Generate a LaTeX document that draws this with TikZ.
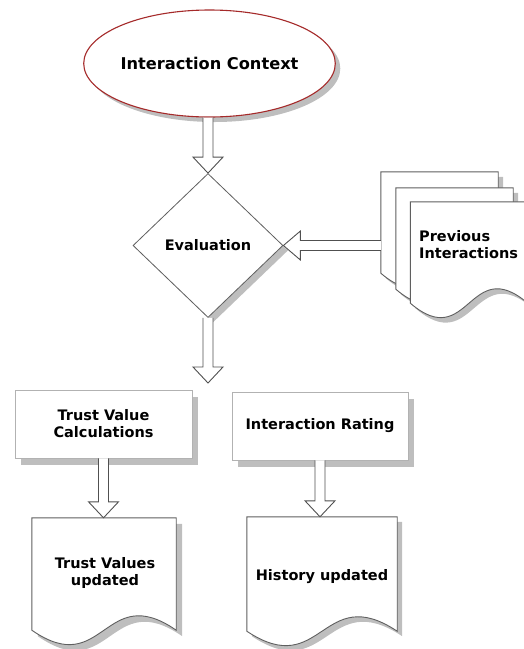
\documentclass[tikz,border=0pt]{standalone}
\usepackage{fontspec}
\setmainfont{DejaVu Sans}
\usetikzlibrary{shapes.geometric,shadows,calc}

\definecolor{ctxred}{RGB}{165,42,42}
\definecolor{edgegray}{RGB}{95,95,95}
\definecolor{boxgray}{RGB}{178,178,178}
\definecolor{shadegray}{RGB}{190,190,190}
\definecolor{arrowgray}{RGB}{80,80,80}

% outline of a document symbol built on the box of node #2 (wavy bottom edge),
% moved right and down by #3
\newcommand\docshape[3]{%
  \path[#1] let \p1=(#2.north west), \p2=(#2.south east) in
    (\x1+#3,\y2-#3) -- (\x1+#3,\y1-#3) -- (\x2+#3,\y1-#3) -- (\x2+#3,\y2-#3)
    .. controls ({0.5*\x1+0.5*\x2+#3},{\y2+50pt-#3}) and ({0.5*\x1+0.5*\x2+#3},{\y2-50pt-#3})
    .. (\x1+#3,\y2-#3) -- cycle;}

% hollow block arrow pointing down from #1 to #2
\newcommand\blockdown[2]{%
  \path[blockarrow] let \p1=(#1), \p2=(#2) in
    (\x1-5pt,\y1) -- (\x1-5pt,\y2+16pt) -- (\x1-15pt,\y2+16pt) -- (\x1,\y2)
    -- (\x1+15pt,\y2+16pt) -- (\x1+5pt,\y2+16pt) -- (\x1+5pt,\y1);}

% hollow block arrow pointing left from #1 to #2
\newcommand\blockleft[2]{%
  \path[blockarrow] let \p1=(#1), \p2=(#2) in
    (\x1,\y2+5pt) -- (\x2+17pt,\y2+5pt) -- (\x2+17pt,\y2+14.5pt) -- (\x2,\y2)
    -- (\x2+17pt,\y2-14.5pt) -- (\x2+17pt,\y2-5pt) -- (\x1,\y2-5pt);}

\tikzset{
  txt/.style={font=\fontsize{14.5}{17}\selectfont\bfseries, text=black, align=center, inner sep=0pt},
  ctxnode/.style={txt, font=\fontsize{16.2}{19}\selectfont\bfseries, ellipse, draw=ctxred,
    line width=1.1pt, fill=white, minimum width=247, minimum height=107,
    drop shadow={shadow xshift=5pt, shadow yshift=-5pt, fill=shadegray, opacity=1}},
  decision/.style={txt, diamond, draw=edgegray, line width=0.8pt, fill=white,
    minimum width=150, minimum height=144,
    drop shadow={shadow xshift=5pt, shadow yshift=-5pt, fill=shadegray, opacity=1}},
  process/.style={txt, rectangle, draw=boxgray, line width=0.9pt, fill=white,
    drop shadow={shadow xshift=6pt, shadow yshift=-7pt, fill=shadegray, opacity=1}},
  docarea/.style={rectangle, inner sep=0pt, draw=none},
  docfill/.style={draw=edgegray, line width=0.9pt, fill=white},
  docshade/.style={fill=shadegray, draw=none},
  blockarrow/.style={draw=arrowgray, line width=0.9pt, fill=white, line join=miter},
}

\begin{document}
\begin{tikzpicture}[x=1pt,y=-1pt]
\useasboundingbox (0,0) rectangle (524,649);
\clip (0,0) rectangle (524,649);

% main nodes
\node[ctxnode] (ctx) at (209.5,63.5) {Interaction Context};
\node[decision] (eval) at (208,245.5) {Evaluation};
\node[process, minimum width=177, minimum height=68] (tvc) at (103.5,424) {Trust Value\\Calculations};
\node[process, minimum width=176, minimum height=68] (ir) at (320,426) {Interaction Rating};

% document areas
\node[docarea, minimum width=117, minimum height=101] (pi1) at (439.5,222.5) {};
\node[docarea, minimum width=117, minimum height=101] (pi2) at (454.5,238.5) {};
\node[docarea, minimum width=117, minimum height=101] (pi3) at (469,252.5) {};
\node[docarea, minimum width=144, minimum height=112] (tvu) at (104,574) {};
\node[docarea, minimum width=150, minimum height=114] (hu) at (322,574) {};

% stacked documents
\docshape{docshade}{pi1}{5pt}
\docshape{docfill}{pi1}{0pt}
\docshape{docshade}{pi2}{5pt}
\docshape{docfill}{pi2}{0pt}
\docshape{docshade}{pi3}{5pt}
\docshape{docfill}{pi3}{0pt}
\node[txt, align=left, anchor=west] (pitext) at (419,244.5) {Previous\\Interactions};

% result documents
\docshape{docshade}{tvu}{6pt}
\docshape{docfill}{tvu}{0pt}
\node[txt] (tvutext) at (105,573) {Trust Values\\updated};
\docshape{docshade}{hu}{5pt}
\docshape{docfill}{hu}{0pt}
\node[txt] (hutext) at (322,577) {History updated};

% connectors
\coordinate (split) at (207,383);
\blockdown{ctx.south -| eval.north}{eval.north}
\blockleft{pi1.west |- eval.east}{eval.east}
\blockdown{eval.south}{split}
\blockdown{tvc.south}{tvu.north}
\blockdown{ir.south}{hu.north}
\end{tikzpicture}
\end{document}
